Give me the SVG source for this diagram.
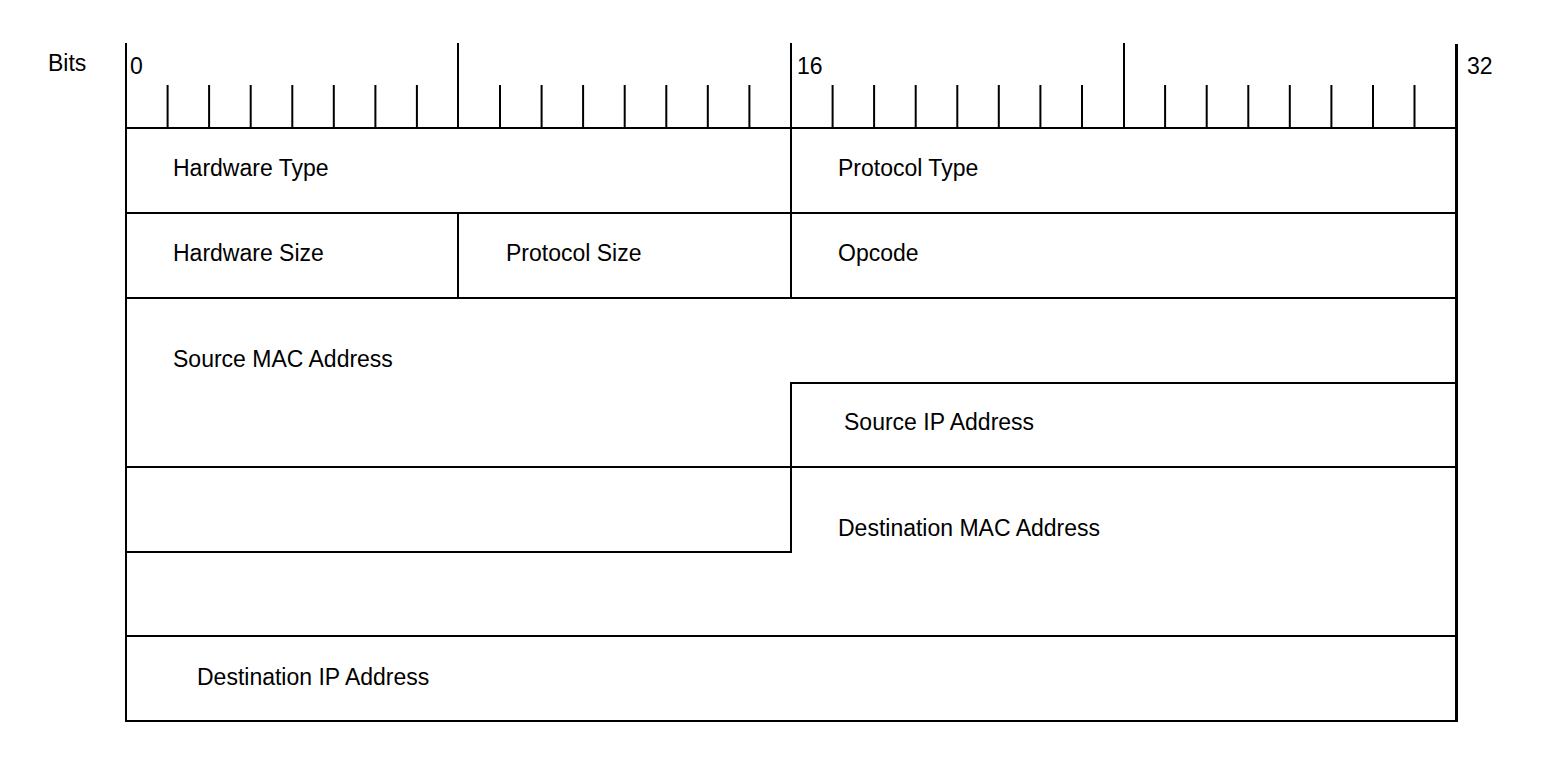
<svg xmlns="http://www.w3.org/2000/svg" width="1541" height="765" viewBox="0 0 1541 765">
<style>
.l{stroke:#000;stroke-width:2;fill:none;stroke-linecap:square}
.b{stroke:#000;stroke-width:3;fill:none}
.t{font-family:"Liberation Sans",Arial,sans-serif;font-size:23px;fill:#000}
</style>
<rect width="1541" height="765" fill="#fff"/>
<g id="ruler">
<text class="t" x="48" y="71">Bits</text>
<text class="t" x="130" y="74">0</text>
<text class="t" x="797" y="74">16</text>
<text class="t" x="1467" y="74">32</text>
<path class="l" d="M126,44V128M458,44V128M791,44V128M1124,44V128M126,128H1456"/>
<path class="l" d="M167.6,86V128M209.1,86V128M250.7,86V128M292.3,86V128M333.8,86V128M375.4,86V128M416.9,86V128M500,86V128M541.6,86V128M583.1,86V128M624.7,86V128M666.3,86V128M707.8,86V128M749.4,86V128M832.6,86V128M874.1,86V128M915.7,86V128M957.3,86V128M998.8,86V128M1040.4,86V128M1082,86V128M1165.1,86V128M1206.7,86V128M1248.3,86V128M1289.8,86V128M1331.4,86V128M1373,86V128M1414.5,86V128"/>
</g>
<g id="connectors">
<path class="l" d="M126,128V721H1456"/>
<path class="b" d="M1456.5,44V722"/>
<path class="l" d="M126,213H1456M126,298H1456M791,128V298M458,213V298"/>
<path class="l" d="M791,383H1456M791,383V552M126,467H1456M126,552H791M126,636H1456"/>
</g>
<g id="hardware-type"><text class="t" x="173" y="176">Hardware Type</text></g>
<g id="protocol-type"><text class="t" x="838" y="176">Protocol Type</text></g>
<g id="hardware-size"><text class="t" x="173" y="261">Hardware Size</text></g>
<g id="protocol-size"><text class="t" x="506" y="261">Protocol Size</text></g>
<g id="opcode"><text class="t" x="838" y="261">Opcode</text></g>
<g id="source-mac"><text class="t" x="173" y="367">Source MAC Address</text></g>
<g id="source-ip"><text class="t" x="844" y="430">Source IP Address</text></g>
<g id="dest-mac"><text class="t" x="838" y="536">Destination MAC Address</text></g>
<g id="dest-ip"><text class="t" x="197" y="685">Destination IP Address</text></g>
</svg>
